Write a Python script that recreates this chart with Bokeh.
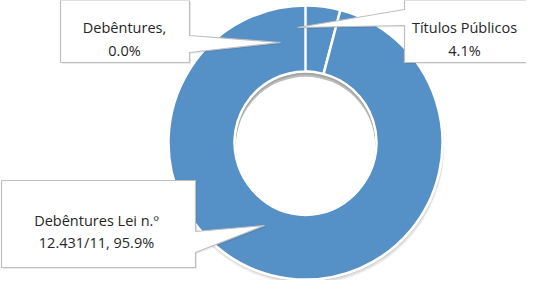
import math
from bokeh.plotting import figure
from bokeh.models import Range1d, ColumnDataSource
from bokeh.core.properties import value
from bokeh.embed import file_html
from bokeh.resources import INLINE

# ---- data ----
categories = ["Títulos Públicos", "Debêntures", "Debêntures Lei n.º 12.431/11"]
shares = [4.1, 0.0, 95.9]
colors = ["#4676A8", "#5590C6", "#5590C6"]
label_line1 = ["Títulos Públicos", "Debêntures,", "Debêntures Lei n.º"]
label_line2 = ["4.1%", "0.0%", "12.431/11, 95.9%"]

# ---- layout helpers (reference px -> data) ----
W, H = 526, 280
def sy(y):
    return 296 - y

p = figure(width=W, height=H, output_backend="svg", toolbar_location=None,
           x_range=Range1d(8, 534), y_range=Range1d(8, 288),
           min_border=0, outline_line_color=None)
p.axis.visible = False
p.grid.visible = False
p.background_fill_color = "white"

cx, cy = 313, sy(150)
r_out, r_in = 137, 71

# soft shadow under the ring
for dx, dy, dr, a in [(1, -4, 1, 0.06), (1, -3, 0.5, 0.08), (0.5, -2, 0, 0.10)]:
    p.circle(x=[cx + dx], y=[cy + dy], radius=r_out + dr, fill_color="#000000",
             fill_alpha=a, line_color=None)

# wedges
total = sum(shares)
starts, ends = [], []
cum = 0.0
for v in shares:
    starts.append(math.pi / 2 - 2 * math.pi * cum / total)
    cum += v
    ends.append(math.pi / 2 - 2 * math.pi * cum / total)
src = ColumnDataSource(dict(start=starts, end=ends, color=colors, cat=categories))
p.annular_wedge(x=cx, y=cy, inner_radius=r_in, outer_radius=r_out,
                start_angle="start", end_angle="end", direction="clock",
                fill_color="color", line_color="white", line_width=2.5, source=src)

# inner hole shadow (top crescent)
p.circle(x=[cx], y=[cy], radius=r_in - 1.3, fill_color="#8c8c8c", fill_alpha=0.55,
         line_color=None)
p.circle(x=[cx], y=[cy - 2], radius=r_in - 1.3, fill_color="#bdbdbd", fill_alpha=1.0,
         line_color=None)
p.circle(x=[cx], y=[cy - 4], radius=r_in - 1.3, fill_color="white",
         line_color=None)

# callouts (reference-px geometry)
callouts = [
    [(412, 8), (560, 8), (560, 70), (412, 70), (412, 33), (305, 35), (412, 17)],
    [(68, 8), (197, 8), (197, 43), (288, 50), (197, 60), (197, 70), (68, 70)],
    [(9, 188), (203, 188), (203, 239), (272, 233), (203, 260), (203, 275), (9, 275)],
]
text_pos = [(472, 35, 58), (132, 35, 58), (104, 228, 250)]

for poly in callouts:
    xs = [pt[0] for pt in poly]
    ys = [sy(pt[1]) for pt in poly]
    p.patch(x=[x + 1.5 for x in xs], y=[y - 1.5 for y in ys], fill_color="#000000",
            fill_alpha=0.08, line_color=None)
    p.patch(x=xs, y=ys, fill_color="white", line_color="#BFBFBF", line_width=1.2)

for i in range(len(categories)):
    tx, b1, b2 = text_pos[i]
    p.text(x=[tx, tx], y=[sy(b1), sy(b2)], text=[label_line1[i], label_line2[i]],
           text_align="center", text_baseline="alphabetic",
           text_font=value("Open Sans"), text_font_size="14.5px", text_color="#262626")

open("out.html", "w").write(file_html(p, INLINE))
